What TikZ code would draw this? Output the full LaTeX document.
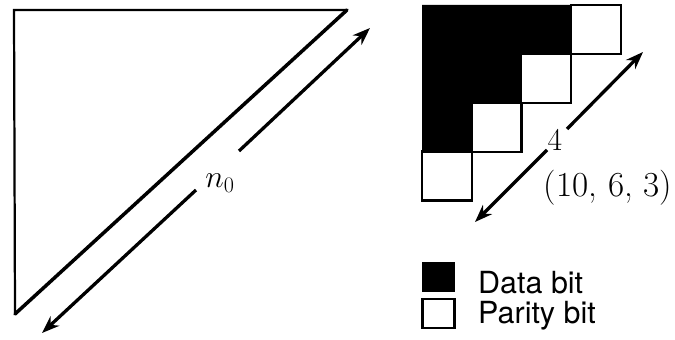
\RequirePackage{fix-cm}
\documentclass[tikz,border=0pt]{standalone}
\usepackage{fontspec}
\newfontfamily\legendfont{TeX Gyre Heros}
\usepackage{tikz}
\usetikzlibrary{arrows.meta}

\begin{document}
\begin{tikzpicture}[x=0.03cm, y=-0.03cm,
    thinline/.style={line width=1.9pt, line cap=round},
    hypline/.style={line width=3pt, line cap=round},
    arrow/.style={-{Stealth[length=15pt, width=11pt]}, line width=2.8pt},
    parity/.style={rectangle, draw=black, fill=white, line width=2pt,
                   minimum width=1.49cm, minimum height=1.46cm, inner sep=0pt},
    databit/.style={rectangle, draw=black, fill=black, line width=1pt,
                    minimum width=0.96cm, minimum height=0.88cm, inner sep=0pt},
    paritykey/.style={rectangle, draw=black, fill=white, line width=1.8pt,
                      minimum width=0.96cm, minimum height=0.85cm, inner sep=0pt},
    mathlabel/.style={font=\fontsize{27}{31}\selectfont, inner sep=1pt},
    keylabel/.style={font=\legendfont\fontsize{26}{30}\selectfont, anchor=west, inner sep=0pt}
]
\useasboundingbox (0,0) rectangle (675,340);

% --- Code triangle ---
\coordinate (tl) at (14,10);
\coordinate (tr) at (347,10);
\coordinate (bl) at (15,314);
\draw [thinline] (bl) -- (tl) -- (tr);
\draw [hypline] (bl) -- (tr);

% --- Length n_0 ---
\coordinate (n0bot) at (42,333);
\coordinate (n0top) at (370,28);
\coordinate (n0a) at (196,190);
\coordinate (n0b) at (239,151);
\draw [arrow] (n0a) -- (n0bot);
\draw [arrow] (n0b) -- (n0top);
\node (n0) [mathlabel] at (220,183) {$n_0$};

% --- Small code block ---
\fill [black] (422,5) -- (571,5) -- (571,54) -- (521,54) -- (521,103)
    -- (471,103) -- (471,152) -- (422,152) -- cycle;
\node (p1) [parity] at (596,29.5) {};
\node (p2) [parity] at (546,78.5) {};
\node (p3) [parity] at (496.5,127.5) {};
\node (p4) [parity] at (447,176) {};

% --- Length 4 ---
\coordinate (fbot) at (475,222);
\coordinate (ftop) at (643,52);
\coordinate (fa) at (547,150);
\coordinate (fb) at (567,129);
\draw [arrow] (fa) -- (fbot);
\draw [arrow] (fb) -- (ftop);
\node (four) [mathlabel] at (555,140) {4};
\node (params) [mathlabel, font=\fontsize{30}{34}\selectfont] at (608,188) {(10, 6, 3)};

% --- Legend ---
\node (keydata) [databit] at (438.5,277) {};
\node (keypar) [paritykey] at (438.5,313.5) {};
\node (txtdata) [keylabel] at (478,283) {Data bit};
\node (txtpar) [keylabel] at (478,316) {Parity bit};
\end{tikzpicture}
\end{document}
